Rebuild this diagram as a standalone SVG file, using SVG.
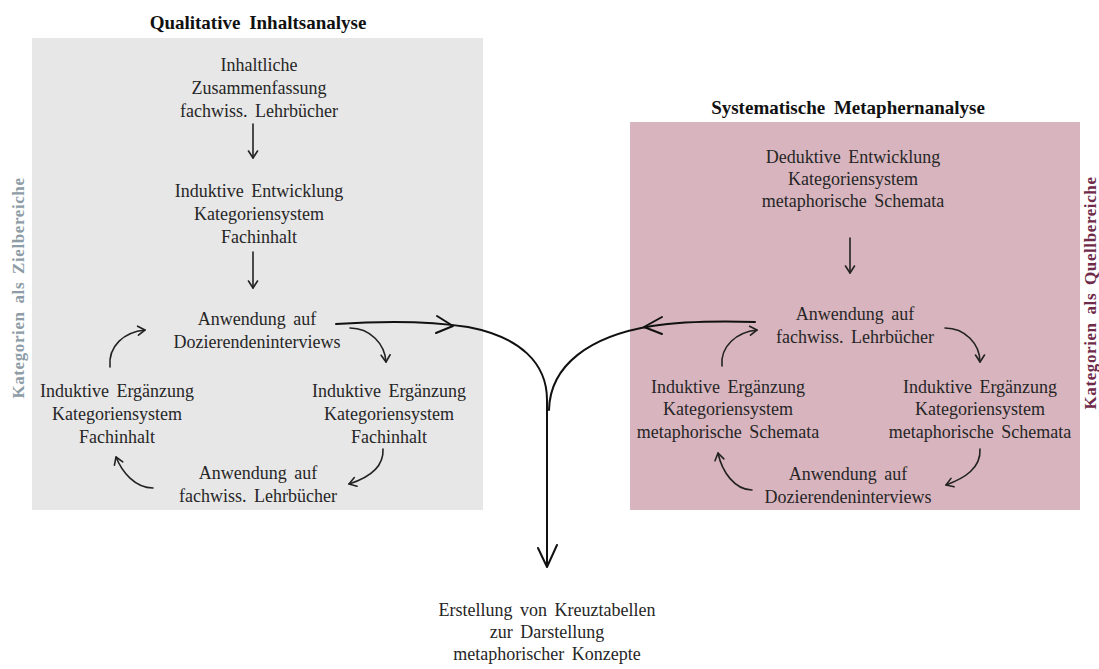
<svg xmlns="http://www.w3.org/2000/svg" width="1099" height="669" viewBox="0 0 1099 669">
<style>
.t{font-family:"Liberation Serif","Times New Roman",serif;font-size:18px;fill:#262626;text-anchor:middle;word-spacing:3px}
.h{font-family:"Liberation Serif","Times New Roman",serif;font-size:19px;font-weight:bold;fill:#111;text-anchor:middle;word-spacing:4px}
.side{font-family:"Liberation Serif","Times New Roman",serif;font-size:17px;font-weight:bold;text-anchor:middle;letter-spacing:0.6px;word-spacing:3px}
.c{fill:none;stroke:#222;stroke-width:1.6;stroke-linecap:round;stroke-linejoin:round}
.m{fill:none;stroke:#111;stroke-width:2;stroke-linecap:round;stroke-linejoin:round}
</style>
<defs>
<marker id="ah" markerWidth="12" markerHeight="12" refX="9" refY="6" orient="auto" markerUnits="userSpaceOnUse">
<path d="M2,1.5 L9,6 L2,10.5" fill="none" stroke="#222" stroke-width="1.6" stroke-linecap="round" stroke-linejoin="round"/>
</marker>
</defs>
<rect width="1099" height="669" fill="#ffffff"/>

<g id="box-left">
<rect x="32" y="38" width="451" height="472" fill="#e7e7e7"/>
<text class="h" x="258" y="29">Qualitative Inhaltsanalyse</text>
</g>
<g id="box-right">
<rect x="630" y="122" width="450" height="388" fill="#d8b5be"/>
<text class="h" x="848" y="114">Systematische Metaphernanalyse</text>
</g>

<g id="label-left"><text class="side" fill="#8d9ca6" letter-spacing="1" transform="translate(24,288) rotate(-90)">Kategorien als Zielbereiche</text></g>
<g id="label-right"><text class="side" fill="#6e2a48" letter-spacing="0.2" transform="translate(1096,293) rotate(-90)">Kategorien als Quellbereiche</text></g>

<g id="n-l1"><text class="t" x="259" y="71">Inhaltliche</text><text class="t" x="259" y="94">Zusammenfassung</text><text class="t" x="259" y="117">fachwiss. Lehrbücher</text></g>
<g id="n-l2"><text class="t" x="259" y="197">Induktive Entwicklung</text><text class="t" x="259" y="220">Kategoriensystem</text><text class="t" x="259" y="243">Fachinhalt</text></g>
<g id="n-l3"><text class="t" x="257" y="325">Anwendung auf</text><text class="t" x="257" y="348">Dozierendeninterviews</text></g>
<g id="n-l4"><text class="t" x="117" y="397">Induktive Ergänzung</text><text class="t" x="117" y="420">Kategoriensystem</text><text class="t" x="117" y="443">Fachinhalt</text></g>
<g id="n-l5"><text class="t" x="389" y="397">Induktive Ergänzung</text><text class="t" x="389" y="420">Kategoriensystem</text><text class="t" x="389" y="443">Fachinhalt</text></g>
<g id="n-l6"><text class="t" x="258" y="479">Anwendung auf</text><text class="t" x="258" y="502">fachwiss. Lehrbücher</text></g>

<g id="n-r1"><text class="t" x="853" y="163">Deduktive Entwicklung</text><text class="t" x="853" y="185">Kategoriensystem</text><text class="t" x="853" y="207">metaphorische Schemata</text></g>
<g id="n-r2"><text class="t" x="855" y="320">Anwendung auf</text><text class="t" x="855" y="343">fachwiss. Lehrbücher</text></g>
<g id="n-r3"><text class="t" x="728" y="393">Induktive Ergänzung</text><text class="t" x="728" y="415">Kategoriensystem</text><text class="t" x="728" y="438">metaphorische Schemata</text></g>
<g id="n-r4"><text class="t" x="980" y="393">Induktive Ergänzung</text><text class="t" x="980" y="415">Kategoriensystem</text><text class="t" x="980" y="438">metaphorische Schemata</text></g>
<g id="n-r5"><text class="t" x="848" y="480">Anwendung auf</text><text class="t" x="848" y="503">Dozierendeninterviews</text></g>

<g id="n-out"><text class="t" x="547" y="616">Erstellung von Kreuztabellen</text><text class="t" x="547" y="638">zur Darstellung</text><text class="t" x="547" y="660">metaphorischer Konzepte</text></g>

<g id="connectors">
<path class="c" d="M253,124 L253,158" marker-end="url(#ah)"/>
<path class="c" d="M253,252 L253,288" marker-end="url(#ah)"/>
<path class="c" d="M110,367 C108,346 124,332 145,330" marker-end="url(#ah)"/>
<path class="c" d="M350,328 C370,328 385,344 386,362" marker-end="url(#ah)"/>
<path class="c" d="M383,449 C384,468 368,478 349,484" marker-end="url(#ah)"/>
<path class="c" d="M153,488 C135,488 122,472 116,457" marker-end="url(#ah)"/>

<path class="c" d="M850,238 L850,273" marker-end="url(#ah)"/>
<path class="c" d="M722,366 C720,346 737,332 757,330" marker-end="url(#ah)"/>
<path class="c" d="M945,328 C965,328 980,344 980,362" marker-end="url(#ah)"/>
<path class="c" d="M980,449 C981,468 965,478 946,485" marker-end="url(#ah)"/>
<path class="c" d="M752,490 C735,490 722,472 718,453" marker-end="url(#ah)"/>

<path class="m" d="M336,324 C380,321 430,321 468,327 C520,337 547,363 547,400 L547,566"/>
<path class="m" d="M437,316 L453,326 L436,333"/>
<path class="m" d="M755,322 C720,321 685,321 652,326 C590,336 550,365 549,410"/>
<path class="m" d="M662,317 L644,327 L662,334"/>
<path class="m" d="M538,548 L547,567 L557,545"/>
</g>
</svg>
